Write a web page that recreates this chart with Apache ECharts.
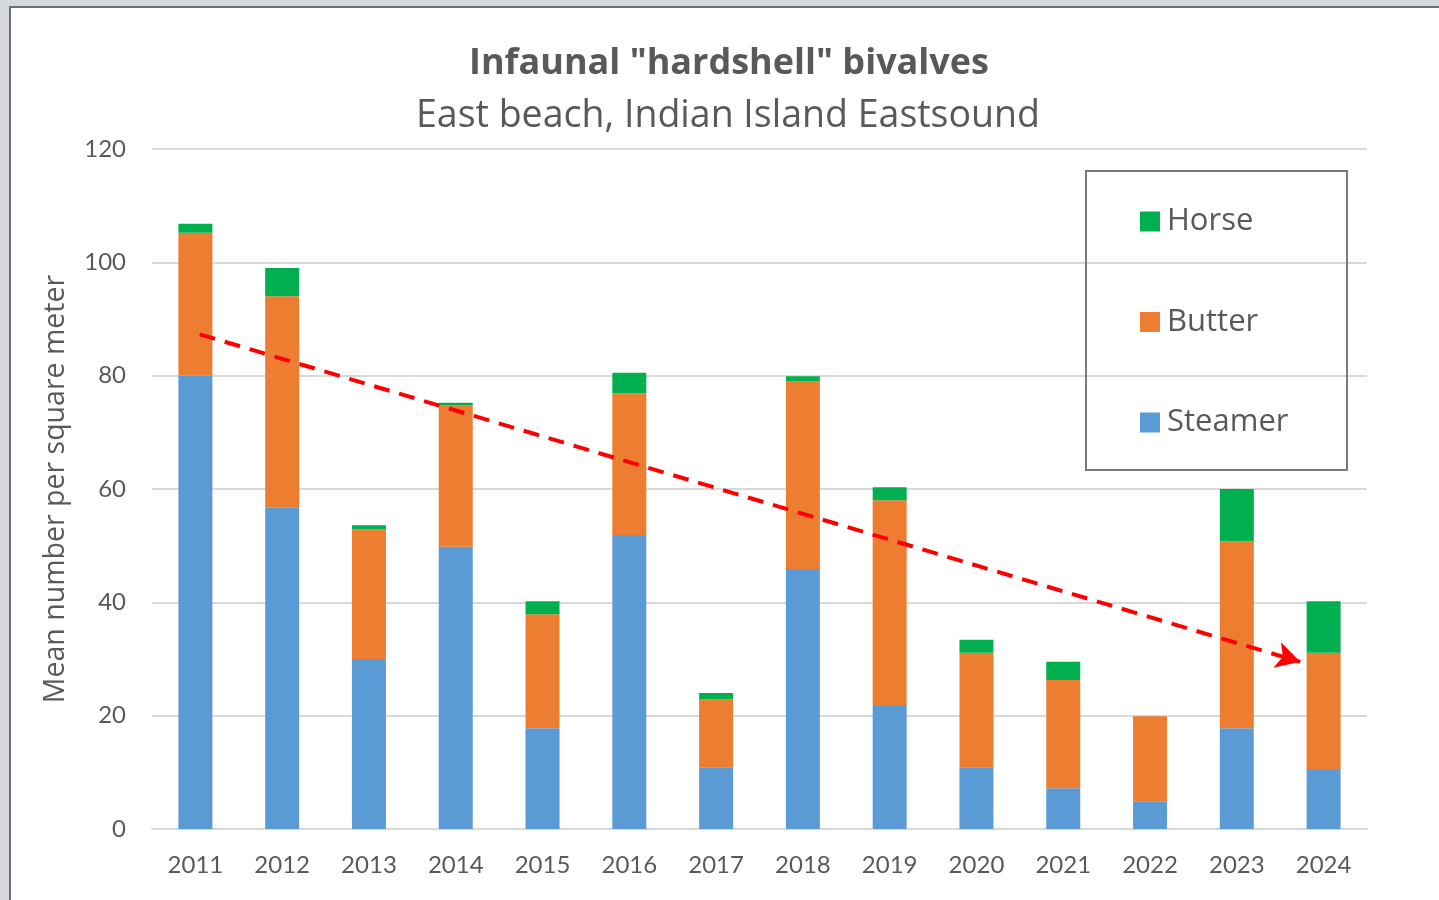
<!DOCTYPE html>
<html>
<head>
<meta charset="utf-8">
<script src="https://cdn.jsdelivr.net/npm/echarts@6/dist/echarts.min.js"></script>
<style>
  html, body { margin: 0; padding: 0; width: 1439px; height: 900px; overflow: hidden; background: #d4d8dc; }
  .frame { position: absolute; left: 9px; top: 6px; width: 1450px; height: 910px; background: #fff; border: 2px solid #6f6f6f; box-sizing: border-box; }
  #chart { position: absolute; left: 0; top: 0; width: 1439px; height: 900px; }
</style>
</head>
<body>
<div class="frame"></div>
<div id="chart"></div>
<script>
// 年份 / 各物种密度 (每平方米平均数量)
const years = ['2011', '2012', '2013', '2014', '2015', '2016', '2017', '2018', '2019', '2020', '2021', '2022', '2023', '2024'];
const steamer = [80, 56.8, 30, 49.8, 17.8, 51.9, 10.9, 45.9, 21.9, 10.9, 7.2, 4.9, 17.8, 10.6];
const butter = [25.2, 37.2, 22.9, 25, 20.1, 25, 12, 33.1, 36.1, 20.2, 19.1, 15, 33, 20.5];
const horse = [1.6, 5, 0.7, 0.4, 2.3, 3.6, 1.1, 0.9, 2.3, 2.3, 3.2, 0, 9.2, 9.1];
const yTicks = { min: 0, max: 120, interval: 20 };
// 趋势箭头 (类别序号, 数值)
const trendStart = [0.05, 87.3];
const trendEnd = [12.73, 29.5];

const FONT = 'Lato';
const FONT2 = 'Open Sans';
const GREY = '#595959';

const chart = echarts.init(document.getElementById('chart'), null, { renderer: 'canvas' });

const barSeries = (name, data, color) => ({
  name,
  type: 'bar',
  stack: 'total',
  data,
  barWidth: 34,
  itemStyle: { color },
  emphasis: { disabled: true },
});

chart.setOption({
  animation: false,
  textStyle: { fontFamily: FONT },
  title: [
    {
      text: 'Infaunal "hardshell" bivalves',
      left: 724,
      textAlign: 'center',
      top: 41,
      textStyle: { fontFamily: FONT2, fontSize: 36, fontWeight: 'bold', color: GREY },
    },
    {
      text: 'East beach, Indian Island Eastsound',
      left: 723,
      textAlign: 'center',
      top: 92,
      textStyle: { fontFamily: FONT2, fontSize: 37.5, fontWeight: 'normal', color: GREY },
    },
  ],
  grid: { left: 152, right: 72, top: 149, bottom: 71, containLabel: false },
  legend: {
    data: ['Horse', 'Butter', 'Steamer'],
    orient: 'vertical',
    left: 1140,
    top: 206,
    padding: 0,
    itemWidth: 20,
    itemHeight: 20,
    itemGap: 69.5,
    icon: 'rect',
    textStyle: { fontFamily: FONT2, fontSize: 31, color: GREY, lineHeight: 30, padding: [0, 0, 0, 2] },
  },
  xAxis: [
    {
      type: 'category',
      data: years,
      axisTick: { show: false },
      axisLine: { lineStyle: { color: '#d9d9d9', width: 2 } },
      axisLabel: { fontFamily: FONT, fontSize: 24, color: GREY, margin: 24 },
    },
    {
      type: 'value',
      min: -0.5,
      max: years.length - 0.5,
      show: false,
    },
  ],
  yAxis: {
    type: 'value',
    min: yTicks.min,
    max: yTicks.max,
    interval: yTicks.interval,
    name: 'Mean number per square meter',
    nameLocation: 'middle',
    nameGap: 82,
    nameTextStyle: { fontFamily: FONT2, fontSize: 28.5, color: GREY },
    axisLine: { show: false },
    axisTick: { show: false },
    axisLabel: { fontFamily: FONT, fontSize: 24, color: GREY, margin: 26 },
    splitLine: { lineStyle: { color: '#d9d9d9', width: 2 } },
  },
  graphic: [
    {
      type: 'rect',
      shape: { x: 1086, y: 171, width: 261, height: 299 },
      style: { fill: 'rgba(255,255,255,0)', stroke: '#7a7a7a', lineWidth: 2 },
      z: 10,
    },
  ],
  series: [
    barSeries('Steamer', steamer, '#5b9bd5'),
    barSeries('Butter', butter, '#ed7d31'),
    barSeries('Horse', horse, '#00b050'),
    {
      name: 'trend',
      type: 'line',
      xAxisIndex: 1,
      data: [],
      silent: true,
      markLine: {
        silent: true,
        symbol: ['none', 'arrow'],
        symbolSize: [20, 24],
        label: { show: false },
        lineStyle: { color: '#ff0000', width: 4, type: [16, 10] },
        data: [[{ coord: trendStart }, { coord: trendEnd }]],
      },
    },
  ],
});
</script>
</body>
</html>
